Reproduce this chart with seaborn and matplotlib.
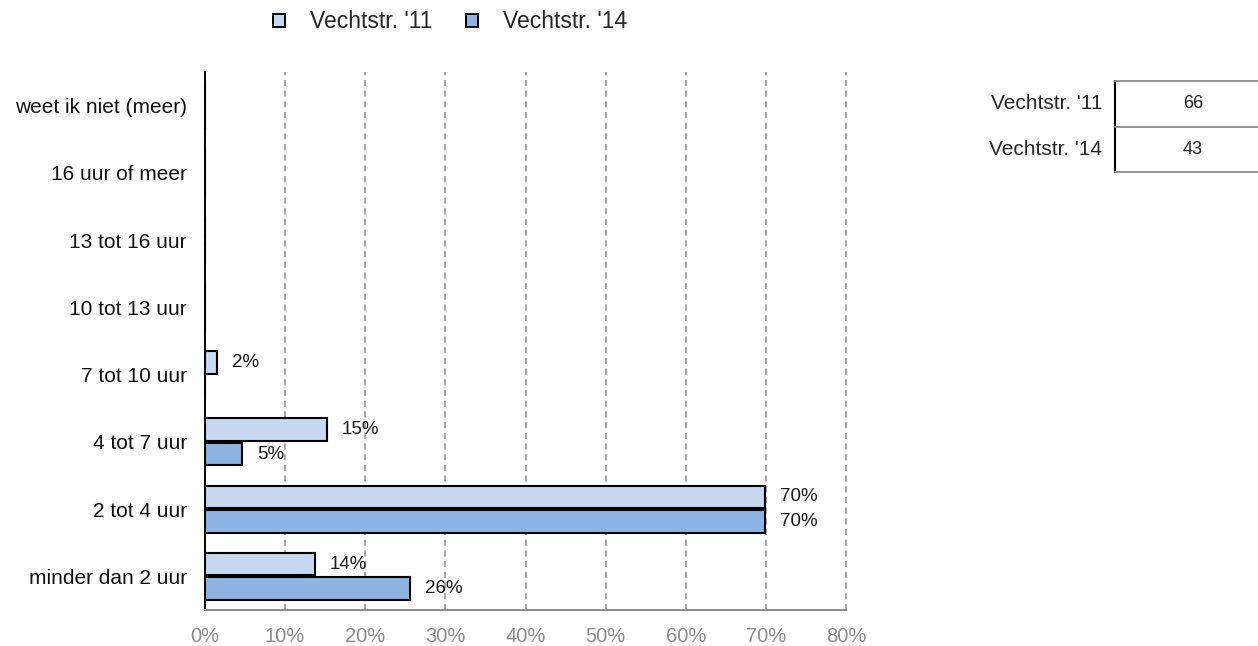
import pandas as pd
import matplotlib.pyplot as plt
import seaborn as sns
from matplotlib.patches import Patch

# data
categories = ['weet ik niet (meer)', '16 uur of meer', '13 tot 16 uur', '10 tot 13 uur',
              '7 tot 10 uur', '4 tot 7 uur', '2 tot 4 uur', 'minder dan 2 uur']
series = ["Vechtstr. '11", "Vechtstr. '14"]
vals_11 = [0, 0, 0, 0, 1.5, 15.2, 69.9, 13.7]
vals_14 = [0, 0, 0, 0, 0, 4.6, 69.9, 25.6]
labels_11 = ['', '', '', '', '2%', '15%', '70%', '14%']
labels_14 = ['', '', '', '', '', '5%', '70%', '26%']
counts = [66, 43]
colors = ['#C6D9F1', '#8DB4E2']

df = pd.DataFrame({
    'cat': categories * 2,
    'serie': [series[0]] * len(categories) + [series[1]] * len(categories),
    'pct': vals_11 + vals_14,
})

sns.set_style('white')
plt.rcParams['font.family'] = ['Liberation Sans', 'DejaVu Sans']

fig = plt.figure(figsize=(12.58, 6.46), dpi=100)
ax = fig.add_axes([205 / 1258, 36 / 646, 641 / 1258, 538 / 646])

sns.barplot(data=df, x='pct', y='cat', hue='serie', order=categories, hue_order=series,
            palette=colors, saturation=1, orient='h', width=0.73, gap=0.09,
            edgecolor='black', linewidth=1.5, legend=False, ax=ax)

for cont, labs in zip(ax.containers, [labels_11, labels_14]):
    ax.bar_label(cont, labels=labs, padding=11, fontsize=13.5, color='#1a1a1a')

ax.set_xlim(0, 80)
ax.set_xticks(range(0, 81, 10))
ax.set_xticklabels([f'{t}%' for t in range(0, 81, 10)], color='#8c8c8c', fontsize=14.5)
ax.tick_params(axis='x', length=0, pad=12)
ax.tick_params(axis='y', length=0, pad=13, labelsize=15, labelcolor='#111111')
ax.set_xlabel('')
ax.set_ylabel('')

for t in range(10, 81, 10):
    ax.axvline(t, color='#8c8c8c', linestyle=(0, (4, 3)), linewidth=1.1, zorder=0, clip_on=False)
ax.spines['top'].set_visible(False)
ax.spines['right'].set_visible(False)
ax.spines['left'].set_color('black')
ax.spines['left'].set_linewidth(1.4)
ax.spines['bottom'].set_color('#8c8c8c')
ax.spines['bottom'].set_linewidth(1.4)

handles = [Patch(facecolor=c, edgecolor='black', linewidth=1.4) for c in colors]
fig.legend(handles, series, loc='center', bbox_to_anchor=(0.358, 0.966), ncol=2, frameon=False,
           fontsize=16.5, handlelength=0.52, handleheight=0.52, handletextpad=1.1,
           columnspacing=1.45)

# small n-table on the right
tab = fig.add_axes([1115 / 1258, (646 - 172) / 646, 143 / 1258, 91 / 646])
tab.set_xlim(0, 1)
tab.set_ylim(0, len(counts))
tab.axis('off')
tab.axvline(0, color='black', linewidth=1.5, clip_on=False)
for y in range(len(counts) + 1):
    tab.axhline(y, color='#8c8c8c', linewidth=1.3, clip_on=False)
for i, (name, n) in enumerate(zip(series, counts)):
    yc = len(counts) - i - 0.5
    tab.text(0.545, yc, str(n), ha='center', va='center', fontsize=13)
    tab.text(-0.09, yc, name, ha='right', va='center', fontsize=15, clip_on=False)

fig.savefig('out.png', dpi=100)
